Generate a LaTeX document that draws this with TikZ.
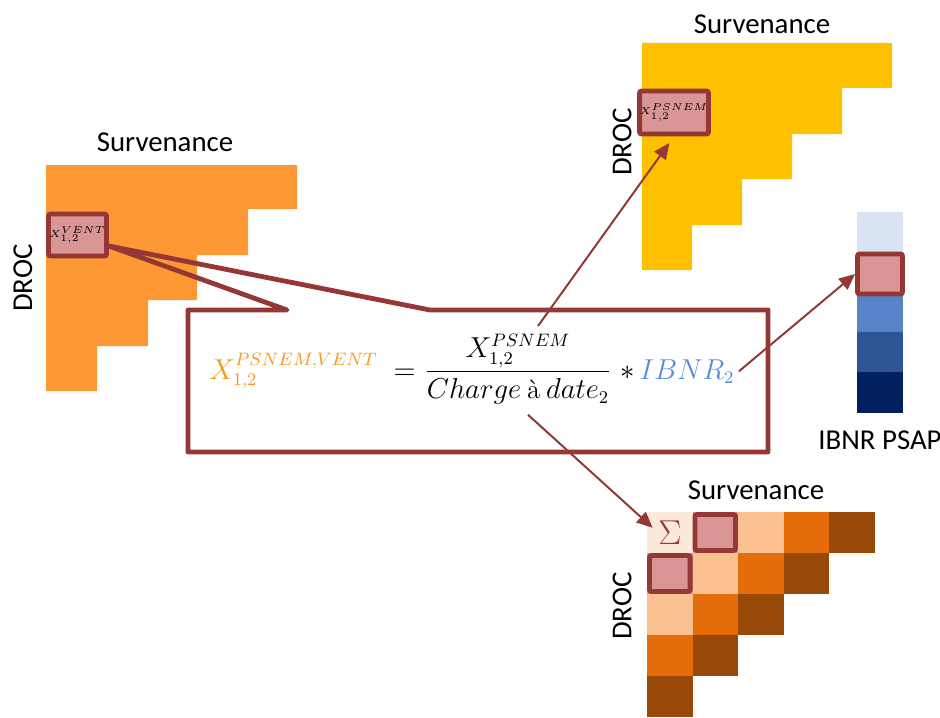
\documentclass[tikz,border=0pt]{standalone}
\usepackage{fontspec}
\setmainfont{Carlito}
\usepackage{amsmath}
\usetikzlibrary{calc,arrows.meta}

\definecolor{vent}{RGB}{253,152,52}
\definecolor{psnem}{RGB}{255,192,0}
\definecolor{hlpink}{RGB}{218,150,148}
\definecolor{darkred}{RGB}{149,55,53}
\definecolor{formorange}{RGB}{247,150,30}
\definecolor{formblue}{RGB}{86,141,214}
\definecolor{ibnrA}{RGB}{218,227,243}
\definecolor{ibnrB}{RGB}{88,131,201}
\definecolor{ibnrC}{RGB}{47,85,151}
\definecolor{ibnrD}{RGB}{0,32,96}
\definecolor{grid0}{RGB}{253,233,217}
\definecolor{grid1}{RGB}{218,150,148}
\definecolor{grid2}{RGB}{250,192,144}
\definecolor{grid3}{RGB}{228,108,10}
\definecolor{grid4}{RGB}{152,72,7}

\newcommand{\formsize}{\fontsize{13.3}{16}\selectfont}

\tikzset{
  hlcell/.style={draw=darkred, fill=hlpink, line width=2.4pt, rounded corners=1pt, inner sep=0pt},
  axislabel/.style={font=\Large, inner sep=0pt},
  link/.style={->, draw=darkred, line width=1pt},
}

\begin{document}
\begin{tikzpicture}[x=0.5pt, y=-0.5pt, >={Triangle[length=8pt,width=7pt]}]
  \useasboundingbox (0,0) rectangle (940,717);

  % Triangle VENT (gauche)
  \fill[vent] (46,165) -| (297,209) -| (248,255) -| (197,300) -| (148,346) -| (97,391) -- (46,391) -- cycle;
  \node[axislabel] (survL) at (165,142) {Survenance};
  \node[axislabel, rotate=90] (drocL) at (23,278) {DROC};
  \node[hlcell, minimum width=29pt, minimum height=21pt] (cellL) at (77.5,235) {\tiny $X_{1,2}^{VENT}$};

  % Triangle PSNEM (haut)
  \fill[psnem] (642,43) -| (892,88) -| (842,134) -| (792,179) -| (742,225) -| (692,270) -- (642,270) -- cycle;
  \node[axislabel] (survT) at (762,24) {Survenance};
  \node[axislabel, rotate=90] (drocT) at (622,142) {DROC};
  \node[hlcell, minimum width=29pt, minimum height=21.5pt] (cellT) at (674,112.5) {\tiny $X_{1,2}^{PSNEM}$};

  % IBNR PSAP
  \fill[ibnrA] (857,212) rectangle (903,252);
  \fill[ibnrB] (857,295) rectangle (903,332);
  \fill[ibnrC] (857,332) rectangle (903,372);
  \fill[ibnrD] (857,372) rectangle (903,413);
  \node[hlcell, minimum width=22.5pt, minimum height=20pt] (cellI) at (880,274) {};
  \node[axislabel] (ibnr) at (880,440) {IBNR PSAP};

  % Triangle des charges (bas)
  \foreach \r in {0,...,4}{
    \foreach \c in {0,...,4}{
      \pgfmathtruncatemacro{\d}{\r+\c}
      \ifnum\d<5
        \fill[grid\d] (647+45.6*\c, 512+41*\r) rectangle ++(45.6,41);
      \fi
    }
  }
  \node[axislabel] (survB) at (756,490) {Survenance};
  \node[axislabel, rotate=90] (drocB) at (622,606) {DROC};
  \node[text=darkred, font=\LARGE, inner sep=0pt] (sumcell) at (669.8,532.5) {$\Sigma$};
  \node[hlcell, minimum width=20.3pt, minimum height=18pt] (cellA) at (715.2,532.5) {};
  \node[hlcell, minimum width=20.3pt, minimum height=18pt] (cellB) at (669.8,573.5) {};

  % Formule
  \node[inner sep=0pt, outer sep=0pt, minimum width=290pt, minimum height=71pt] (box) at (478,381) {};
  \coordinate (tipL) at ($(cellL.east)+(0,11)$);
  \draw[darkred, line width=2.4pt, line join=round]
    ($(box.north west)+(99,0)$) -- (tipL) -- ($(box.north west)+(242,0)$)
    -- (box.north east) -- (box.south east) -- (box.south west) -- (box.north west) -- cycle;

  \node[anchor=base, font=\formsize, inner sep=2pt] (frac) at (518,379)
    {$\dfrac{X_{1,2}^{PSNEM}}{Charge\ \text{\fontfamily{lmr}\selectfont à}\ date_2}$};
  \node[anchor=base east, font=\formsize, inner sep=2pt] (lhs) at (frac.base west)
    {$\color{formorange}X_{1,2}^{PSNEM,VENT}\color{black}\;=$};
  \node[anchor=base west, font=\formsize, inner sep=2pt] (rhs) at (frac.base east)
    {$*\,\color{formblue}IBNR_2$};

  % Fleches
  \draw[link, shorten >=4pt] ($(frac.north)+(20,-4)$) -- (cellT.south);
  \draw[link] (rhs.east) -- (cellI.west);
  \draw[link, shorten >=3.5pt] ($(frac.south)+(10,6)$) -- (sumcell.west);
\end{tikzpicture}
\end{document}
